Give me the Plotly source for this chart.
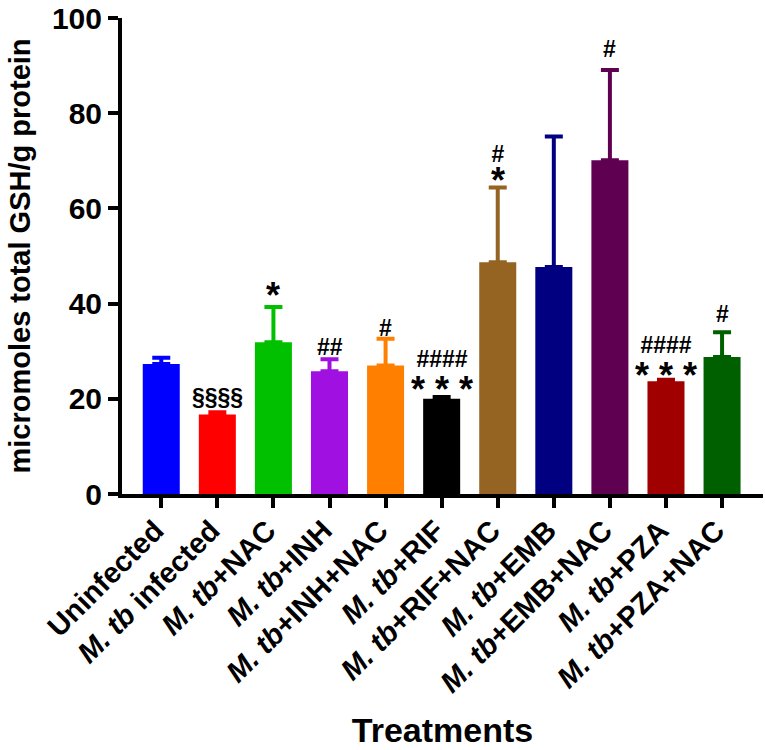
import plotly.graph_objects as go

categories = ["Uninfected", "<i>M. tb</i> infected", "<i>M. tb</i>+NAC", "<i>M. tb</i>+INH",
              "<i>M. tb</i>+INH+NAC", "<i>M. tb</i>+RIF", "<i>M. tb</i>+RIF+NAC", "<i>M. tb</i>+EMB",
              "<i>M. tb</i>+EMB+NAC", "<i>M. tb</i>+PZA", "<i>M. tb</i>+PZA+NAC"]
means = [27.3, 16.7, 31.9, 25.8, 27.0, 20.0, 48.7, 47.7, 70.1, 23.7, 28.8]
errors = [1.3, 0.5, 7.4, 2.5, 5.6, 0.4, 15.7, 27.4, 19.0, 0.3, 5.2]
colors = ["#0000FF", "#FF0000", "#00C000", "#A010E0", "#FF8000", "#000000",
          "#956322", "#000080", "#600050", "#A00000", "#006000"]

# significance marks: category index, "#"-type mark, "*"-type mark, y position (data units)
marks_idx = [1, 2, 3, 4, 5, 6, 8, 9, 10]
marks_hash = ["§§§§", "", "##", "#", "####", "#", "#", "####", "#"]
marks_star = ["", "*", "", "", "* * *", "*", "", "* * *", ""]
marks_y = [20.3, 42.8, 30.8, 34.8, 25.9, 69.4, 93.4, 28.75, 37.9]

y_ticks = [0, 20, 40, 60, 80, 100]

FONT = "Liberation Sans, Arial, sans-serif"

fig = go.Figure()
fig.add_trace(go.Bar(
    x=list(range(len(categories))), y=means,
    marker=dict(color=colors, line=dict(width=0)),
    width=0.66,
    showlegend=False, hoverinfo="skip",
))
# one-sided error bars coloured like each bar
for i in range(len(categories)):
    fig.add_trace(go.Scatter(
        x=[i], y=[means[i]], mode="markers",
        marker=dict(size=1, color=colors[i], opacity=0),
        error_y=dict(type="data", array=[errors[i]], arrayminus=[0], symmetric=False,
                     visible=True, thickness=4, width=9, color=colors[i]),
        showlegend=False, hoverinfo="skip",
    ))

for i, h, s, yv in zip(marks_idx, marks_hash, marks_star, marks_y):
    if h and s:
        txt = ("<span style='font-size:23px'>%s</span><br>"
               "<span style='font-size:36px'>%s</span>" % (h, s))
        size = 27 if len(s) > 1 else 24
        shift = -7
    elif s:
        txt, size, shift = s, 36, -5
    else:
        txt, size, shift = h, 23, 0
    fig.add_annotation(
        x=i, y=yv, text=txt, showarrow=False, xref="x", yref="y",
        yanchor="middle", xanchor="center", yshift=shift,
        font=dict(family=FONT, size=size, color="black", weight="bold"),
    )

fig.update_layout(
    template="none",
    width=765, height=750,
    margin=dict(l=122, r=2, t=18, b=256, pad=0),
    plot_bgcolor="white", paper_bgcolor="white",
    font=dict(family=FONT, color="black"),
)
fig.update_xaxes(
    automargin=False,
    range=[-0.7, 10.73],
    tickmode="array", tickvals=list(range(len(categories))), ticktext=categories,
    tickangle=-45,
    ticklabelshift=-6, ticklabelstandoff=-6,
    tickfont=dict(family=FONT, size=29, color="black", weight="bold"),
    ticks="outside", ticklen=10, tickwidth=4, tickcolor="black",
    showline=True, linewidth=4, linecolor="black",
    showgrid=False, zeroline=False,
    title=dict(text="Treatments", font=dict(family=FONT, size=34, color="black", weight="bold"),
               standoff=22),
)
fig.update_yaxes(
    automargin=False,
    range=[0, 100],
    tickmode="array", tickvals=y_ticks, ticktext=[str(v) for v in y_ticks],
    tickfont=dict(family=FONT, size=30, color="black", weight="bold"),
    ticks="outside", ticklen=10, tickwidth=4, tickcolor="black",
    showline=True, linewidth=4, linecolor="black",
    showgrid=False, zeroline=False,
    title=dict(text="micromoles total GSH/g protein",
               font=dict(family=FONT, size=29, color="black", weight="bold"), standoff=14),
)

# remove the browser's default 8 px body margin so the figure fills the window
fig.write_html("out.html", config={"displayModeBar": False},
               post_script="document.body.style.margin='0';")
